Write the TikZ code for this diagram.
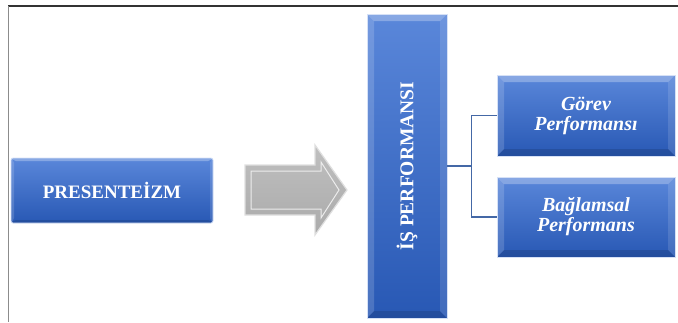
\documentclass[tikz,border=0pt]{standalone}
\usepackage{fontspec}
\setmainfont{Liberation Serif}
\usetikzlibrary{calc}
\definecolor{btop}{RGB}{90,135,218}
\definecolor{bbot}{RGB}{40,88,180}
\definecolor{blin}{RGB}{68,104,166}
\tikzset{
  bevel/.style={path picture={
    \fill[white,opacity=0.28] (path picture bounding box.north west) -- (path picture bounding box.north east)
       -- ([xshift=-#1,yshift=-#1]path picture bounding box.north east) -- ([xshift=#1,yshift=-#1]path picture bounding box.north west) -- cycle;
    \fill[white,opacity=0.16] (path picture bounding box.north west) -- ([xshift=#1,yshift=-#1]path picture bounding box.north west)
       -- ([xshift=#1,yshift=#1]path picture bounding box.south west) -- (path picture bounding box.south west) -- cycle;
    \fill[white,opacity=0.12] (path picture bounding box.north east) -- ([xshift=-#1,yshift=-#1]path picture bounding box.north east)
       -- ([xshift=-#1,yshift=#1]path picture bounding box.south east) -- (path picture bounding box.south east) -- cycle;
    \fill[black,opacity=0.12] (path picture bounding box.south west) -- ([xshift=#1,yshift=#1]path picture bounding box.south west)
       -- ([xshift=-#1,yshift=#1]path picture bounding box.south east) -- (path picture bounding box.south east) -- cycle;
  }},
  bluebox/.style={draw=white!75!btop, line width=0.8pt, top color=btop, bottom color=bbot,
    text=white, font=\bfseries\fontsize{18}{19}\selectfont, align=center, inner sep=0pt},
  subfont/.style={font=\bfseries\itshape\fontsize{20}{20}\selectfont},
  conn/.style={draw=blin, line width=1.6pt},
}
\begin{document}
\begin{tikzpicture}[x=1pt,y=-1pt]
\useasboundingbox (0,0) rectangle (678,322);
% frame
\draw[line width=1.3pt, black!80] (8,6) -- (678,6);
\draw[line width=1.6pt, black!45] (8.5,6) -- (8.5,322);
% nodes
\node[bluebox, bevel=3pt, rounded corners=2pt, minimum width=202pt, minimum height=65pt,
  font=\bfseries\fontsize{19}{20}\selectfont] (pres) at (112,190.5) {PRESENTEİZM};
\node[bluebox, bevel=7pt, minimum width=80pt, minimum height=304pt] (is) at (407,166) {};
\node[text=white, font=\bfseries\fontsize{19.5}{20}\selectfont, rotate=90] (istext) at (is.center) {İŞ PERFORMANSI};
\node[bluebox, bevel=7pt, minimum width=178pt, minimum height=81pt, subfont] (gorev) at (586,115.5) {Görev\\Performansı};
\node[bluebox, bevel=7pt, minimum width=178pt, minimum height=80pt, subfont] (baglam) at (586,217) {Bağlamsal\\Performans};
% arrow
\shade[top color=gray!50, bottom color=gray!66, draw=gray!25, line width=1.2pt]
  (245,165) -- (315,165) -- (315,145) -- (347,190) -- (315,235) -- (315,215) -- (245,215) -- cycle;
\draw[white!85!gray, line width=1pt] (251,171) -- (321,171) -- (321,162) -- (339,190) -- (321,218) -- (321,209) -- (251,209) -- cycle;
% connectors
\draw[conn] (gorev.west) -- ++(-25,0) |- (is.east);
\draw[conn] (baglam.west) -- ++(-25,0) |- (is.east);
\end{tikzpicture}
\end{document}
